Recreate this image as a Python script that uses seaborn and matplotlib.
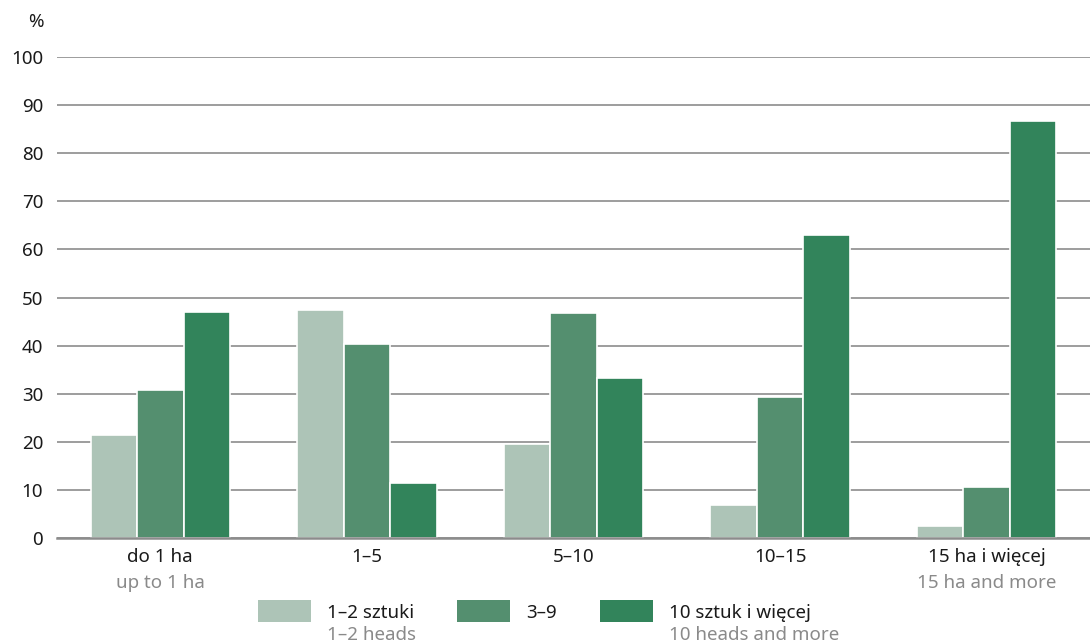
import matplotlib
matplotlib.use("Agg")
import matplotlib.pyplot as plt
import matplotlib.transforms as mtransforms
from matplotlib.patches import Patch
import pandas as pd
import seaborn as sns

# farm area groups (Polish label, English subtitle)
areas = ["do 1 ha", "1–5", "5–10", "10–15", "15 ha i więcej"]
areas_en = ["up to 1 ha", "", "", "", "15 ha and more"]

# herd size classes
herds = ["1–2 sztuki", "3–9", "10 sztuk i więcej"]
herds_en = ["1–2 heads", "", "10 heads and more"]

small_herd = [21.4, 47.4, 19.5, 6.9, 2.5]
mid_herd = [30.8, 40.3, 46.8, 29.3, 10.6]
large_herd = [47.0, 11.4, 33.3, 63.0, 86.7]

colors = ["#adc4b7", "#548f6f", "#32845b"]
FS = 13.5

sns.set_style("white")
plt.rcParams["font.family"] = ["Noto Sans", "DejaVu Sans"]

df = pd.DataFrame({
    "area": areas * 3,
    "herd": [herds[0]] * 5 + [herds[1]] * 5 + [herds[2]] * 5,
    "value": small_herd + mid_herd + large_herd,
})

fig = plt.figure(figsize=(10.9, 6.42), dpi=100)
ax = fig.add_axes([0.0523, 0.162, 0.9477, 0.749])

sns.barplot(data=df, x="area", y="value", hue="herd", order=areas,
            hue_order=herds, palette=colors, width=0.675,
            edgecolor="white", linewidth=1.2, saturation=1, ax=ax)

ax.set_ylim(0, 100)
ax.set_xlim(-0.5, 4.5)
ax.set_yticks(range(0, 101, 10))
ax.set_axisbelow(True)
ax.yaxis.grid(True, color="#8c8c8c", linewidth=1.2)
ax.set_xlabel("")
ax.set_ylabel("")
for side in ["left", "right", "top"]:
    ax.spines[side].set_visible(False)
ax.spines["bottom"].set_color("#8c8c8c")
ax.spines["bottom"].set_linewidth(1.8)
ax.tick_params(axis="both", length=0, labelsize=FS, colors="#1a1a1a")
ax.tick_params(axis="y", pad=10)
ax.tick_params(axis="x", pad=7)

trans = mtransforms.blended_transform_factory(ax.transData, ax.transAxes)
for i, sub in enumerate(areas_en):
    if sub:
        ax.text(i, -0.094, sub, transform=trans, ha="center", va="center",
                fontsize=FS, color="#8a8a8a")

fig.text(0.033, 0.966, "%", ha="center", va="center", fontsize=FS,
         color="#1a1a1a")

handles = [Patch(facecolor=c, edgecolor="none") for c in colors]
leg = ax.legend(handles, herds, ncol=3, frameon=False, loc="upper center",
                bbox_to_anchor=(0.462, -0.11), fontsize=FS, borderpad=0,
                handlelength=2.83, handleheight=1.44, columnspacing=2.3,
                handletextpad=0.85)
for t in leg.get_texts():
    t.set_color("#1a1a1a")

fig.canvas.draw()
inv = fig.transFigure.inverted()
for txt, sub in zip(leg.get_texts(), herds_en):
    if sub:
        bb = txt.get_window_extent()
        x0, yc = inv.transform((bb.x0, (bb.y0 + bb.y1) / 2 - 22))
        fig.text(x0, yc, sub, ha="left", va="center", fontsize=FS,
                 color="#8a8a8a")

fig.savefig("out.png", dpi=100)
